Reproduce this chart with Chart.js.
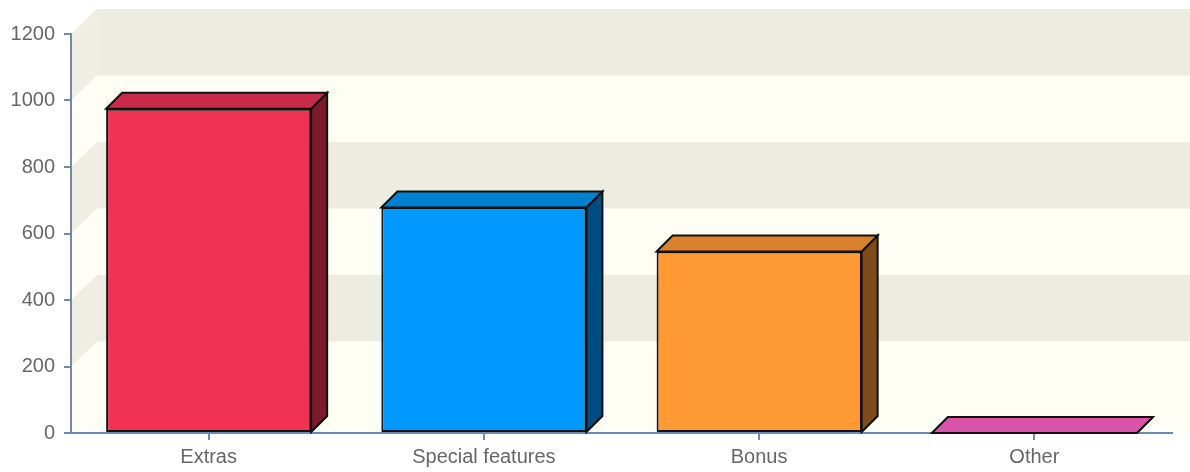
<!DOCTYPE html>
<html><head><meta charset="utf-8">
<script src="https://cdn.jsdelivr.net/npm/chart.js@4/dist/chart.umd.min.js"></script>
<style>html,body{margin:0;padding:0;background:#fff;overflow:hidden}</style>
</head><body>
<canvas id="c" width="1190" height="472"></canvas>
<script>
const categories = ['Extras', 'Special features', 'Bonus', 'Other'];
const values = [975, 678, 546, 0];
const frontColors = ['#F03355', '#0099FF', '#FF9933', '#DD55AA'];
const topColors = ['#C82A4A', '#0080D2', '#D8822E', '#D955AB'];
const sideColors = ['#7A1B2C', '#004C80', '#7F4B18', '#7A2A5A'];
const yTicks = [0, 200, 400, 600, 800, 1000, 1200];

const WALL_DX = 26, WALL_DY = 25;
const BAR_DX = 16, BAR_DY = 16;
const AXIS_COLOR = '#6E8AAF';
const FONT = {family: 'Liberation Sans, Arial, sans-serif', size: 20};

function poly(ctx, pts, fill, stroke) {
  ctx.beginPath();
  ctx.moveTo(pts[0][0], pts[0][1]);
  for (let i = 1; i < pts.length; i++) ctx.lineTo(pts[i][0], pts[i][1]);
  ctx.closePath();
  ctx.fillStyle = fill; ctx.fill();
  if (stroke) { ctx.strokeStyle = stroke; ctx.lineWidth = 2; ctx.lineJoin = 'miter'; ctx.stroke(); }
}

const backdrop = {
  id: 'backdrop',
  beforeDraw(chart) {
    const {ctx, chartArea: a, scales: {y}} = chart;
    ctx.save();
    ctx.fillStyle = '#FFFFFF';
    ctx.fillRect(0, 0, chart.width, chart.height);
    // floor
    poly(ctx, [[a.left, a.bottom], [a.left + WALL_DX, a.bottom - WALL_DY], [chart.width, a.bottom - WALL_DY], [chart.width, a.bottom]], '#FEFEF5');
    for (let i = 0; i < yTicks.length - 1; i++) {
      const p1 = y.getPixelForValue(yTicks[i]);
      const p2 = y.getPixelForValue(yTicks[i + 1]);
      const gray = i % 2 === 1;
      // back wall
      ctx.fillStyle = gray ? '#ECECE0' : '#FEFEF5';
      ctx.fillRect(a.left + WALL_DX, p2 - WALL_DY, chart.width - a.left - WALL_DX, p1 - p2);
      // side wall
      poly(ctx, [[a.left, p1], [a.left + WALL_DX, p1 - WALL_DY], [a.left + WALL_DX, p2 - WALL_DY], [a.left, p2]], gray ? '#EEEEE3' : '#FEFEF6');
    }
    ctx.restore();
  }
};

const faces = {
  id: 'faces',
  afterDatasetsDraw(chart) {
    const {ctx} = chart;
    const meta = chart.getDatasetMeta(0);
    ctx.save();
    meta.data.forEach((bar, i) => {
      const {x, y, base, width} = bar.getProps(['x', 'y', 'base', 'width'], true);
      const x0 = x - width / 2, x1 = x + width / 2;
      poly(ctx, [[x1, y], [x1 + BAR_DX, y - BAR_DY], [x1 + BAR_DX, base - BAR_DY], [x1, base]], sideColors[i], '#111');
      poly(ctx, [[x0, y], [x0 + BAR_DX, y - BAR_DY], [x1 + BAR_DX, y - BAR_DY], [x1, y]], topColors[i], '#111');
    });
    ctx.restore();
  }
};

new Chart(document.getElementById('c'), {
  type: 'bar',
  data: {
    labels: categories,
    datasets: [{
      data: values,
      backgroundColor: frontColors,
      borderColor: '#111',
      borderWidth: 2,
      borderSkipped: false,
      categoryPercentage: 1,
      barPercentage: 0.745
    }]
  },
  options: {
    responsive: false,
    animation: false,
    layout: {padding: {top: 34, right: 18, left: 0, bottom: 0}},
    plugins: {legend: {display: false}, tooltip: {enabled: false}},
    scales: {
      x: {
        z: 1,
        offset: true,
        grid: {display: true, offset: false, drawOnChartArea: false, tickLength: 7, color: AXIS_COLOR, lineWidth: 2},
        border: {display: true, color: AXIS_COLOR, width: 2},
        ticks: {color: '#666', font: FONT, padding: 5, maxRotation: 0},
        afterFit(s) { s.height = 39; }
      },
      y: {
        min: 0, max: 1200,
        afterBuildTicks(s) { s.ticks = yTicks.map(v => ({value: v})); },
        grid: {display: true, drawOnChartArea: false, tickLength: 7, color: AXIS_COLOR, lineWidth: 2},
        border: {display: true, color: AXIS_COLOR, width: 2},
        ticks: {color: '#666', font: FONT, padding: 9, callback: v => String(v)},
        afterFit(s) { s.width = 71; }
      }
    }
  },
  plugins: [backdrop, faces]
});
</script>
</body></html>
